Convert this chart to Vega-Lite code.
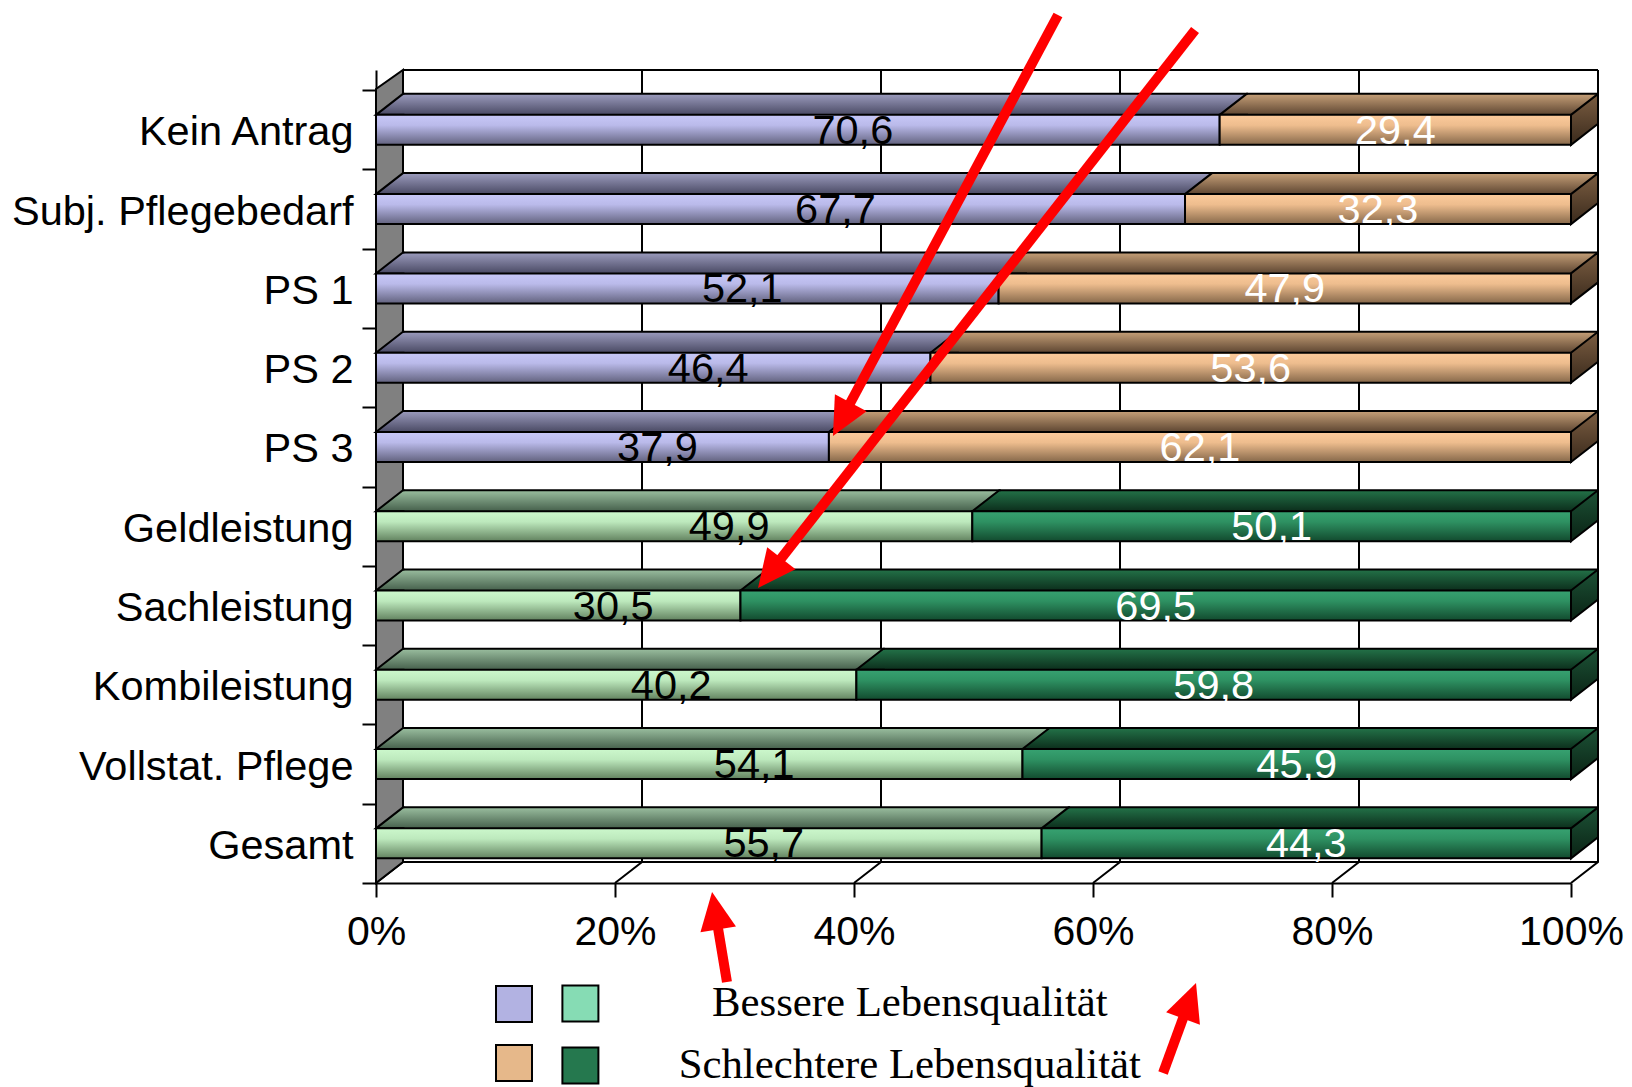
{
  "$schema": "https://vega.github.io/schema/vega-lite/v6.json",
  "width": 1195,
  "height": 813,
  "autosize": "none",
  "padding": {"left": 376, "top": 70, "right": 61, "bottom": 204},
  "background": "white",
  "config": {
    "view": {"stroke": null},
    "font": "Liberation Sans",
    "locale": {"number": {"decimal": ",", "thousands": ".", "grouping": [3], "currency": ["", " €"]}}
  },
  "datasets": {
    "bars": [
      {"cat": "Kein Antrag", "art": "P", "q": "Bessere", "v": 70.6},
      {"cat": "Kein Antrag", "art": "P", "q": "Schlechtere", "v": 29.4},
      {"cat": "Subj. Pflegebedarf", "art": "P", "q": "Bessere", "v": 67.7},
      {"cat": "Subj. Pflegebedarf", "art": "P", "q": "Schlechtere", "v": 32.3},
      {"cat": "PS 1", "art": "P", "q": "Bessere", "v": 52.1},
      {"cat": "PS 1", "art": "P", "q": "Schlechtere", "v": 47.9},
      {"cat": "PS 2", "art": "P", "q": "Bessere", "v": 46.4},
      {"cat": "PS 2", "art": "P", "q": "Schlechtere", "v": 53.6},
      {"cat": "PS 3", "art": "P", "q": "Bessere", "v": 37.9},
      {"cat": "PS 3", "art": "P", "q": "Schlechtere", "v": 62.1},
      {"cat": "Geldleistung", "art": "L", "q": "Bessere", "v": 49.9},
      {"cat": "Geldleistung", "art": "L", "q": "Schlechtere", "v": 50.1},
      {"cat": "Sachleistung", "art": "L", "q": "Bessere", "v": 30.5},
      {"cat": "Sachleistung", "art": "L", "q": "Schlechtere", "v": 69.5},
      {"cat": "Kombileistung", "art": "L", "q": "Bessere", "v": 40.2},
      {"cat": "Kombileistung", "art": "L", "q": "Schlechtere", "v": 59.8},
      {"cat": "Vollstat. Pflege", "art": "L", "q": "Bessere", "v": 54.1},
      {"cat": "Vollstat. Pflege", "art": "L", "q": "Schlechtere", "v": 45.9},
      {"cat": "Gesamt", "art": "L", "q": "Bessere", "v": 55.7},
      {"cat": "Gesamt", "art": "L", "q": "Schlechtere", "v": 44.3}
    ],
    "grid": [{"p": 0}, {"p": 20}, {"p": 40}, {"p": 60}, {"p": 80}, {"p": 100}],
    "arrows": [
      {"id": 1, "x": 57.07, "r": -0.4485, "hx": 39.0, "hr": 4.638, "tx": 38.24, "tr": 4.862},
      {"id": 2, "x": 68.54, "r": -0.2593, "hx": 32.99, "hr": 6.581, "tx": 31.97, "tr": 6.779},
      {"id": 3, "x": 29.37, "r": 11.749, "hx": 28.39, "hr": 10.862, "tx": 28.12, "tr": 10.614},
      {"id": 4, "x": 65.86, "r": 12.897, "hx": 68.04, "hr": 11.998, "tx": 68.62, "tr": 11.761}
    ]
  },
  "layer": [
    {
      "data": {"name": "bars"},
      "transform": [
        {"stack": "v", "groupby": ["cat"], "sort": [{"field": "q", "order": "ascending"}], "as": ["x0", "x1"]}
      ],
      "encoding": {
        "y": {
          "field": "cat",
          "type": "nominal",
          "title": null,
          "scale": {
            "type": "band",
            "domain": ["Kein Antrag", "Subj. Pflegebedarf", "PS 1", "PS 2", "PS 3", "Geldleistung", "Sachleistung", "Kombileistung", "Vollstat. Pflege", "Gesamt"],
            "paddingInner": 0,
            "paddingOuter": 0.1274,
            "align": 1,
            "round": false
          },
          "axis": {
            "title": null,
            "labelFontSize": 41.5,
            "labelFont": "Liberation Sans",
            "labelColor": "black",
            "labelPadding": 9,
            "labelOffset": 3,
            "labelLimit": 600,
            "tickSize": 14,
            "tickWidth": 2,
            "tickColor": "black",
            "tickBand": "extent",
            "domainColor": "black",
            "domainWidth": 2,
            "grid": false
          }
        }
      },
      "layer": [
        {
          "data": {"name": "grid"},
          "mark": {"type": "point", "shape": "M0,0.099L0.0675,0.0465L0.0675,-1.9335", "size": 640000, "filled": false, "stroke": "black", "strokeWidth": 2, "opacity": 1},
          "encoding": {
            "x": {
              "field": "p",
              "type": "quantitative",
              "title": null,
              "scale": {"domain": [0, 100], "nice": false, "zero": false},
              "axis": {
                "title": null,
                "values": [0, 20, 40, 60, 80, 100],
                "labelExpr": "datum.value + '%'",
                "labelFontSize": 41,
                "labelFont": "Liberation Sans",
                "labelColor": "black",
                "labelPadding": 15,
                "labelFlush": false,
                "labelOverlap": false,
                "labelBound": false,
                "tickSize": 14,
                "tickWidth": 2,
                "tickColor": "black",
                "domainColor": "black",
                "domainWidth": 2,
                "grid": false
              }
            },
            "y": {"datum": "Gesamt"}
          }
        },
        {
          "data": {"values": [{}]},
          "mark": {"type": "rule", "color": "black", "strokeWidth": 2, "xOffset": 27, "x2Offset": 27, "yOffset": -59.84},
          "encoding": {"x": {"datum": 0}, "x2": {"datum": 100}, "y": {"datum": "Kein Antrag"}}
        },
        {
          "data": {"values": [{}]},
          "mark": {"type": "rule", "color": "black", "strokeWidth": 2, "xOffset": 27, "x2Offset": 27, "yOffset": 18.6},
          "encoding": {"x": {"datum": 0}, "x2": {"datum": 100}, "y": {"datum": "Gesamt"}}
        },
        {
          "data": {"values": [{}]},
          "mark": {"type": "point", "shape": "M0,0.099L0,-1.886L0.0675,-1.9335L0.0675,0.0465Z", "size": 640000, "filled": true, "fill": "#808080", "stroke": "black", "strokeWidth": 2, "opacity": 1},
          "encoding": {"x": {"datum": 0}, "y": {"datum": "Gesamt"}}
        },
        {
          "transform": [{"filter": "datum.art === 'P' && datum.q === 'Bessere'"}],
          "mark": {"type": "bar", "size": 21, "yOffset": -25.5, "xOffset": 27, "x2Offset": 27, "strokeWidth": 0,
            "fill": {"gradient": "linear", "x1": 0, "y1": 0, "x2": 0, "y2": 1, "stops": [{"offset": 0, "color": "#9c9cbe"}, {"offset": 1, "color": "#4a4a64"}]}},
          "encoding": {"x": {"field": "x0", "type": "quantitative", "title": null}, "x2": {"field": "x1"}}
        },
        {
          "transform": [{"filter": "datum.art === 'P' && datum.q === 'Schlechtere'"}],
          "mark": {"type": "bar", "size": 21, "yOffset": -25.5, "xOffset": 27, "x2Offset": 27, "strokeWidth": 0,
            "fill": {"gradient": "linear", "x1": 0, "y1": 0, "x2": 0, "y2": 1, "stops": [{"offset": 0, "color": "#c6a078"}, {"offset": 1, "color": "#5e4632"}]}},
          "encoding": {"x": {"field": "x0", "type": "quantitative", "title": null}, "x2": {"field": "x1"}}
        },
        {
          "transform": [{"filter": "datum.art === 'L' && datum.q === 'Bessere'"}],
          "mark": {"type": "bar", "size": 21, "yOffset": -25.5, "xOffset": 27, "x2Offset": 27, "strokeWidth": 0,
            "fill": {"gradient": "linear", "x1": 0, "y1": 0, "x2": 0, "y2": 1, "stops": [{"offset": 0, "color": "#9abe9f"}, {"offset": 1, "color": "#46604c"}]}},
          "encoding": {"x": {"field": "x0", "type": "quantitative", "title": null}, "x2": {"field": "x1"}}
        },
        {
          "transform": [{"filter": "datum.art === 'L' && datum.q === 'Schlechtere'"}],
          "mark": {"type": "bar", "size": 21, "yOffset": -25.5, "xOffset": 27, "x2Offset": 27, "strokeWidth": 0,
            "fill": {"gradient": "linear", "x1": 0, "y1": 0, "x2": 0, "y2": 1, "stops": [{"offset": 0, "color": "#237248"}, {"offset": 1, "color": "#0c2e1c"}]}},
          "encoding": {"x": {"field": "x0", "type": "quantitative", "title": null}, "x2": {"field": "x1"}}
        },
        {
          "transform": [{"filter": "datum.art === 'P' && datum.q === 'Bessere'"}],
          "mark": {"type": "point", "shape": "M0.79,-0.4167L0,-0.4167L0.75,-1L0.79,-1", "size": 5184, "filled": true, "stroke": "black", "strokeWidth": 2, "opacity": 1,
            "fill": {"gradient": "linear", "x1": 0, "y1": 0, "x2": 0, "y2": 1, "stops": [{"offset": 0, "color": "#9c9cbe"}, {"offset": 1, "color": "#4a4a64"}]}},
          "encoding": {"x": {"field": "x0", "type": "quantitative", "title": null}}
        },
        {
          "transform": [{"filter": "datum.art === 'P' && datum.q === 'Schlechtere'"}],
          "mark": {"type": "point", "shape": "M0.79,-0.4167L0,-0.4167L0.75,-1L0.79,-1", "size": 5184, "filled": true, "stroke": "black", "strokeWidth": 2, "opacity": 1,
            "fill": {"gradient": "linear", "x1": 0, "y1": 0, "x2": 0, "y2": 1, "stops": [{"offset": 0, "color": "#c6a078"}, {"offset": 1, "color": "#5e4632"}]}},
          "encoding": {"x": {"field": "x0", "type": "quantitative", "title": null}}
        },
        {
          "transform": [{"filter": "datum.art === 'L' && datum.q === 'Bessere'"}],
          "mark": {"type": "point", "shape": "M0.79,-0.4167L0,-0.4167L0.75,-1L0.79,-1", "size": 5184, "filled": true, "stroke": "black", "strokeWidth": 2, "opacity": 1,
            "fill": {"gradient": "linear", "x1": 0, "y1": 0, "x2": 0, "y2": 1, "stops": [{"offset": 0, "color": "#9abe9f"}, {"offset": 1, "color": "#46604c"}]}},
          "encoding": {"x": {"field": "x0", "type": "quantitative", "title": null}}
        },
        {
          "transform": [{"filter": "datum.art === 'L' && datum.q === 'Schlechtere'"}],
          "mark": {"type": "point", "shape": "M0.79,-0.4167L0,-0.4167L0.75,-1L0.79,-1", "size": 5184, "filled": true, "stroke": "black", "strokeWidth": 2, "opacity": 1,
            "fill": {"gradient": "linear", "x1": 0, "y1": 0, "x2": 0, "y2": 1, "stops": [{"offset": 0, "color": "#237248"}, {"offset": 1, "color": "#0c2e1c"}]}},
          "encoding": {"x": {"field": "x0", "type": "quantitative", "title": null}}
        },
        {
          "transform": [{"filter": "datum.q === 'Bessere'"}],
          "mark": {"type": "rule", "color": "black", "strokeWidth": 2, "xOffset": 27, "x2Offset": 27, "yOffset": -36},
          "encoding": {"x": {"datum": 0}, "x2": {"datum": 100}}
        },
        {
          "transform": [{"filter": "datum.art === 'P' && datum.q === 'Bessere'"}],
          "mark": {"type": "bar", "size": 30, "stroke": "black", "strokeWidth": 2,
            "fill": {"gradient": "linear", "x1": 0, "y1": 0, "x2": 0, "y2": 1, "stops": [{"offset": 0, "color": "#c8c8f8"}, {"offset": 0.35, "color": "#babaea"}, {"offset": 1, "color": "#62627e"}]}},
          "encoding": {"x": {"field": "x0", "type": "quantitative", "title": null}, "x2": {"field": "x1"}}
        },
        {
          "transform": [{"filter": "datum.art === 'P' && datum.q === 'Schlechtere'"}],
          "mark": {"type": "bar", "size": 30, "stroke": "black", "strokeWidth": 2,
            "fill": {"gradient": "linear", "x1": 0, "y1": 0, "x2": 0, "y2": 1, "stops": [{"offset": 0, "color": "#fccb9c"}, {"offset": 0.35, "color": "#eebd8e"}, {"offset": 1, "color": "#86684a"}]}},
          "encoding": {"x": {"field": "x0", "type": "quantitative", "title": null}, "x2": {"field": "x1"}}
        },
        {
          "transform": [{"filter": "datum.art === 'L' && datum.q === 'Bessere'"}],
          "mark": {"type": "bar", "size": 30, "stroke": "black", "strokeWidth": 2,
            "fill": {"gradient": "linear", "x1": 0, "y1": 0, "x2": 0, "y2": 1, "stops": [{"offset": 0, "color": "#ccf8cc"}, {"offset": 0.35, "color": "#bde9bd"}, {"offset": 1, "color": "#62825f"}]}},
          "encoding": {"x": {"field": "x0", "type": "quantitative", "title": null}, "x2": {"field": "x1"}}
        },
        {
          "transform": [{"filter": "datum.art === 'L' && datum.q === 'Schlechtere'"}],
          "mark": {"type": "bar", "size": 30, "stroke": "black", "strokeWidth": 2,
            "fill": {"gradient": "linear", "x1": 0, "y1": 0, "x2": 0, "y2": 1, "stops": [{"offset": 0, "color": "#37a271"}, {"offset": 0.35, "color": "#2e9162"}, {"offset": 1, "color": "#124a2e"}]}},
          "encoding": {"x": {"field": "x0", "type": "quantitative", "title": null}, "x2": {"field": "x1"}}
        },
        {
          "transform": [{"filter": "datum.art === 'P' && datum.q === 'Schlechtere'"}],
          "mark": {"type": "point", "shape": "M0,-0.4167L0.75,-1L0.75,-0.1667L0,0.4167Z", "size": 5184, "filled": true, "stroke": "black", "strokeWidth": 2, "opacity": 1,
            "fill": {"gradient": "linear", "x1": 0, "y1": 0, "x2": 0, "y2": 1, "stops": [{"offset": 0, "color": "#7c5e42"}, {"offset": 1, "color": "#3a2a1c"}]}},
          "encoding": {"x": {"datum": 100}}
        },
        {
          "transform": [{"filter": "datum.art === 'L' && datum.q === 'Schlechtere'"}],
          "mark": {"type": "point", "shape": "M0,-0.4167L0.75,-1L0.75,-0.1667L0,0.4167Z", "size": 5184, "filled": true, "stroke": "black", "strokeWidth": 2, "opacity": 1,
            "fill": {"gradient": "linear", "x1": 0, "y1": 0, "x2": 0, "y2": 1, "stops": [{"offset": 0, "color": "#1c5236"}, {"offset": 1, "color": "#0a2214"}]}},
          "encoding": {"x": {"datum": 100}}
        },
        {
          "mark": {"type": "text", "fontSize": 41.5, "font": "Liberation Sans", "dx": 55, "dy": 2, "color": "black"},
          "encoding": {
            "x": {"field": "v", "type": "quantitative", "stack": "zero", "bandPosition": 0.5, "title": null},
            "detail": {"field": "q"},
            "order": {"field": "q", "sort": "ascending"},
            "text": {"field": "v", "type": "quantitative", "format": ".1f"},
            "opacity": {"condition": {"test": "datum.q === 'Bessere'", "value": 1}, "value": 0}
          }
        },
        {
          "mark": {"type": "text", "fontSize": 41.5, "font": "Liberation Sans", "dx": 0, "dy": 2, "color": "white"},
          "encoding": {
            "x": {"field": "v", "type": "quantitative", "stack": "zero", "bandPosition": 0.5, "title": null},
            "detail": {"field": "q"},
            "order": {"field": "q", "sort": "ascending"},
            "text": {"field": "v", "type": "quantitative", "format": ".1f"},
            "opacity": {"condition": {"test": "datum.q === 'Schlechtere'", "value": 1}, "value": 0}
          }
        },
        {
          "data": {"values": [{"k": "P-B"}, {"k": "P-S"}]},
          "mark": {"type": "point", "filled": true, "size": 0, "opacity": 1},
          "encoding": {
            "x": {"datum": 0},
            "y": {"datum": "Gesamt"},
            "fill": {
              "field": "k",
              "type": "nominal",
              "scale": {"domain": ["P-B", "P-S"], "range": ["#b2b2e2", "#e6b88a"]},
              "legend": {
                "orient": "none",
                "legendX": 119,
                "legendY": 915,
                "title": null,
                "padding": 0,
                "symbolType": "square",
                "symbolSize": 1296,
                "symbolStrokeColor": "black",
                "symbolStrokeWidth": 2,
                "symbolOpacity": 1,
                "labelExpr": "''",
                "rowPadding": 15,
                "encode": {"symbols": {"update": {
                  "stroke": {"value": "black"},
                  "strokeWidth": {"value": 2}
                }}}
              }
            }
          }
        },
        {
          "data": {"values": [{"q": "Bessere"}, {"q": "Schlechtere"}]},
          "mark": {"type": "point", "filled": true, "size": 0, "opacity": 1},
          "encoding": {
            "x": {"datum": 0},
            "y": {"datum": "Gesamt"},
            "color": {
              "field": "q",
              "type": "nominal",
              "scale": {"domain": ["Bessere", "Schlechtere"], "range": ["#86dcb4", "#25784e"]},
              "legend": {
                "orient": "none",
                "legendX": 183,
                "legendY": 912,
                "title": null,
                "padding": 0,
                "symbolType": "square",
                "symbolSize": 1296,
                "symbolStrokeColor": "black",
                "symbolStrokeWidth": 2,
                "symbolOpacity": 1,
                "labelExpr": "datum.value + ' Lebensqualität'",
                "labelFont": "Liberation Serif",
                "labelFontSize": 42.8,
                "labelColor": "black",
                "labelAlign": "center",
                "labelOffset": 308,
                "labelLimit": 1000,
                "rowPadding": 17,
                "encode": {"symbols": {"update": {
                  "stroke": {"value": "black"},
                  "strokeWidth": {"value": 2}
                }}}
              }
            }
          }
        }
      ]
    },
    {
      "data": {"name": "arrows"},
      "layer": [
        {
          "mark": {"type": "rule", "color": "#ff0000", "strokeWidth": 10, "strokeCap": "butt"},
          "encoding": {
            "x": {"field": "x", "type": "quantitative", "title": null},
            "x2": {"field": "hx"},
            "y": {"field": "r", "type": "quantitative", "title": null, "axis": null, "scale": {"domain": [0.2452, 10.5], "reverse": true, "nice": false, "zero": false}},
            "y2": {"field": "hr"}
          }
        },
        {
          "transform": [{"filter": "datum.id === 1"}],
          "mark": {"type": "point", "shape": "M0,0L-1,2.1L1,2.1Z", "size": 1296, "filled": true, "color": "#ff0000", "opacity": 1, "angle": 208.1},
          "encoding": {"x": {"field": "tx", "type": "quantitative", "title": null}, "y": {"field": "tr", "type": "quantitative", "title": null, "axis": null}}
        },
        {
          "transform": [{"filter": "datum.id === 2"}],
          "mark": {"type": "point", "shape": "M0,0L-1,2.1L1,2.1Z", "size": 1296, "filled": true, "color": "#ff0000", "opacity": 1, "angle": 218.1},
          "encoding": {"x": {"field": "tx", "type": "quantitative", "title": null}, "y": {"field": "tr", "type": "quantitative", "title": null, "axis": null}}
        },
        {
          "transform": [{"filter": "datum.id === 3"}],
          "mark": {"type": "point", "shape": "M0,0L-1,2.1L1,2.1Z", "size": 1296, "filled": true, "color": "#ff0000", "opacity": 1, "angle": 350.6},
          "encoding": {"x": {"field": "tx", "type": "quantitative", "title": null}, "y": {"field": "tr", "type": "quantitative", "title": null, "axis": null}}
        },
        {
          "transform": [{"filter": "datum.id === 4"}],
          "mark": {"type": "point", "shape": "M0,0L-1,2.1L1,2.1Z", "size": 1296, "filled": true, "color": "#ff0000", "opacity": 1, "angle": 20.1},
          "encoding": {"x": {"field": "tx", "type": "quantitative", "title": null}, "y": {"field": "tr", "type": "quantitative", "title": null, "axis": null}}
        }
      ]
    }
  ],
  "resolve": {"scale": {"y": "independent"}}
}
